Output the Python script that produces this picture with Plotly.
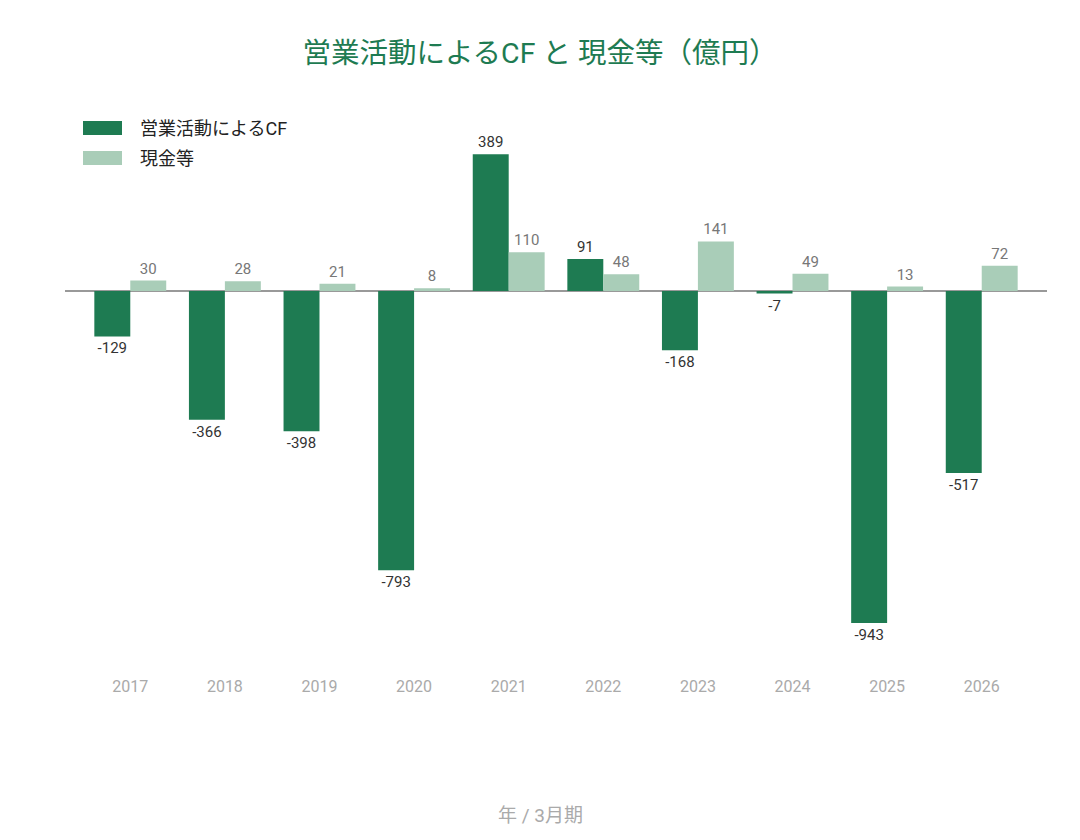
import plotly.graph_objects as go

years = ["2017", "2018", "2019", "2020", "2021", "2022", "2023", "2024", "2025", "2026"]
operating_cf = [-129, -366, -398, -793, 389, 91, -168, -7, -943, -517]
cash = [30, 28, 21, 8, 110, 48, 141, 49, 13, 72]
series_names = ["営業活動によるCF", "現金等"]
x_title = "年 / 3月期"

FONT = "Roboto, Noto Sans CJK JP"
DARK = "#1e7b52"
LIGHT = "#a9cdb8"

fig = go.Figure()
fig.add_trace(go.Bar(
    x=years, y=operating_cf, name=series_names[0], showlegend=False,
    marker=dict(color=DARK, line=dict(width=0)),
    text=[str(v) for v in operating_cf], textposition="outside",
    textfont=dict(color="#333333", size=15, family=FONT),
    cliponaxis=False,
))
fig.add_trace(go.Bar(
    x=years, y=cash, name=series_names[1], showlegend=False,
    marker=dict(color=LIGHT, line=dict(width=0)),
    text=[str(v) for v in cash], textposition="outside",
    textfont=dict(color="#777777", size=15, family=FONT),
    cliponaxis=False,
))

# custom legend (wide swatches)
for i, (nm, col) in enumerate(zip(series_names, [DARK, LIGHT])):
    yc = 128 + 30 * i
    fig.add_shape(type="rect", xref="paper", yref="paper",
                  x0=(83 - 65) / 982, x1=(122 - 65) / 982,
                  y0=(675 - (yc + 7)) / 575, y1=(675 - (yc - 7)) / 575,
                  fillcolor=col, line=dict(width=0), layer="above")
    fig.add_annotation(xref="paper", yref="paper", x=(138 - 65) / 982, y=(675 - yc) / 575,
                       text=nm, showarrow=False, xanchor="left", yanchor="middle",
                       font=dict(size=18, color="#222222", family=FONT))

# x-axis title centred on the page
fig.add_annotation(xref="paper", yref="paper", x=(540 - 65) / 982, y=(675 - 815) / 575,
                   text=x_title, showarrow=False, xanchor="center", yanchor="middle",
                   font=dict(size=19, color="#aaaaaa", family=FONT))

fig.update_layout(
    width=1080, height=840,
    paper_bgcolor="white", plot_bgcolor="white",
    font=dict(family=FONT),
    title=dict(text="営業活動によるCF と 現金等（億円）", x=0.5, xanchor="center",
               y=0.937, yanchor="middle",
               font=dict(size=28.5, color=DARK, family=FONT)),
    barmode="group", bargap=0.24, bargroupgap=0,
    showlegend=False,
    margin=dict(l=65, r=33, t=100, b=165),
    xaxis=dict(type="category", range=[-0.69, 9.69], showgrid=False, showline=False,
               ticks="", tickfont=dict(size=16, color="#aaaaaa", family=FONT)),
    yaxis=dict(range=[-1091, 543], showgrid=False, showticklabels=False,
               zeroline=True, zerolinecolor="#999999", zerolinewidth=2, ticks=""),
)

fig.write_html("out.html")
